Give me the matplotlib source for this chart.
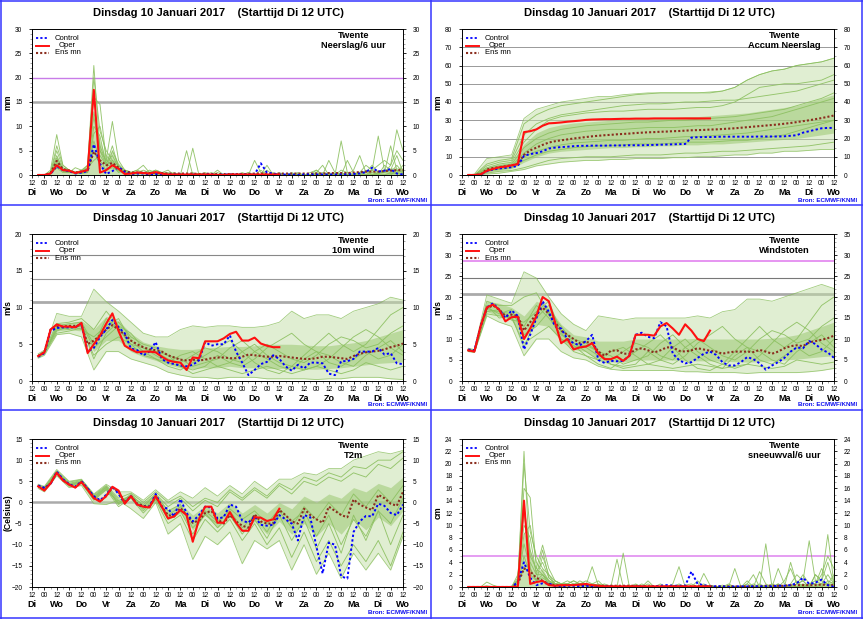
import numpy as np
import matplotlib
matplotlib.use('Agg')
import matplotlib.pyplot as plt
from matplotlib.lines import Line2D
from matplotlib.ticker import MultipleLocator, FixedLocator

plt.rcParams['font.family'] = ['Liberation Sans', 'DejaVu Sans']

# ---------------- time axes (hours after Di 12 UTC) ----------------
T6 = np.arange(6, 361, 6)                              # 6-hourly, 60 steps
T12 = np.concatenate([[6], np.arange(12, 361, 12)])    # 12-hourly, 31 steps
HOURS = ['12', '00'] * 15 + ['12']
DAYS = ['Di', 'Wo', 'Do', 'Vr', 'Za', 'Zo', 'Ma', 'Di', 'Wo', 'Do', 'Vr', 'Za', 'Zo', 'Ma', 'Di', 'Wo']
TITLE = 'Dinsdag 10 Januari 2017    (Starttijd Di 12 UTC)'

# ================= Panel 1: Neerslag/6 uur (mm) =================
p1_oper = [
    0, 0, 0.3, 2.0,
    1.0, 0.9, 0.4, 0.7,
    1.0, 17.5, 0.5, 1.0,
    2.0, 1.3, 0.2, 0.3,
    0.5, 0.4, 0.3, 0.6,
    0.3, 0.1, 0.1, 0.1,
    0.1, 0.1, 0.1, 0.1,
    0.1, 0.0, 0.0, 0.1,
    0.1, 0.1, 0.1, 0.1,
    0.1, 0.1, 0.1, 0.1]
p1_ctrl = [
    0, 0, 0.2, 1.8,
    1.0, 0.8, 0.3, 0.5,
    0.8, 6.3, 2.3, 0.2,
    0.8, 1.6, 0.6, 0.2,
    0.3, 0.3, 0.1, 0.2,
    0.1, 0.1, 0.1, 0.1,
    0.0, 0.1, 0.0, 0.1,
    0.1, 0.0, 0.1, 0.1,
    0.1, 0.1, 0.1, 0.1,
    2.4, 0.5, 0.3, 0.1,
    0.1, 0.1, 0.0, 0.1,
    0.1, 0.1, 0.1, 0.1,
    0.1, 0.1, 0.1, 0.2,
    0.3, 0.6, 1.5, 0.7,
    0.9, 1.2, 0.3, 0.1]
p1_mean = [
    0, 0, 0.4, 2.9,
    1.2, 0.9, 0.5, 0.7,
    1.0, 4.8, 3.0, 2.0,
    2.5, 1.5, 0.8, 0.5,
    0.5, 0.5, 0.4, 0.5,
    0.4, 0.3, 0.3, 0.3,
    0.3, 0.3, 0.2, 0.3,
    0.2, 0.2, 0.2, 0.2,
    0.2, 0.2, 0.2, 0.3,
    0.3, 0.3, 0.2, 0.3,
    0.3, 0.3, 0.3, 0.3,
    0.3, 0.3, 0.3, 0.4,
    0.4, 0.4, 0.4, 0.5,
    0.6, 0.7, 0.7, 0.7,
    0.8, 0.9, 1.0, 1.0]
p1_core = [
    0, 0, 0.6, 4.0,
    1.5, 1.2, 0.8, 1.0,
    1.5, 12.0, 7.0, 3.5,
    5.0, 2.5, 1.2, 0.8,
    0.8, 0.8, 0.6, 0.8,
    0.5, 0.4, 0.3, 0.3,
    0.3, 0.3, 0.3, 0.3,
    0.2, 0.2, 0.2, 0.2,
    0.2, 0.2, 0.2, 0.3,
    0.3, 0.3, 0.3, 0.3,
    0.3, 0.3, 0.3, 0.3,
    0.3, 0.3, 0.4, 0.4,
    0.4, 0.5, 0.5, 0.6,
    0.8, 1.0, 1.0, 1.0,
    1.2, 1.5, 1.5, 1.5]
p1_m1 = [
    0, 0, 1.0, 8.3,
    2.0, 1.0, 0.5, 1.0,
    2.0, 22.5, 5.0, 2.0,
    3.0, 1.0, 0.5, 0.5,
    1.0, 2.0, 0.5, 1.0,
    0.5, 0.3, 0.0, 0.2,
    0.0, 0.5, 0.0, 0.0,
    0.0, 0.0, 0.0, 0.3,
    0.0, 0.0, 0.5, 0.0,
    0.0, 1.0, 0.0, 0.5,
    0.0, 0.5, 0.0, 0.0,
    0.5, 1.0, 0.0, 0.3,
    0.0, 1.0, 0.5, 0.0,
    0.5, 0.0, 1.0, 2.0,
    3.0, 2.0, 9.3, 5.0]
p1_m2 = [
    0, 0, 0.5, 5.0,
    1.5, 1.0, 0.5, 0.5,
    1.0, 16.0, 14.5, 3.0,
    2.0, 0.5, 1.0, 0.5,
    0.5, 0.3, 1.0, 0.5,
    0.2, 0.0, 0.3, 0.0,
    0.0, 5.5, 0.0, 0.5,
    0.0, 0.0, 0.0, 0.0,
    0.0, 0.5, 0.0, 0.0,
    1.0, 0.0, 0.3, 0.0,
    0.0, 0.0, 0.5, 0.0,
    0.0, 0.0, 0.5, 0.0,
    0.0, 7.0, 0.5, 0.0,
    0.0, 0.5, 1.0, 0.0,
    2.0, 1.0, 4.0, 0.5]
p1_m3 = [
    0, 0, 0.3, 3.0,
    1.0, 0.5, 1.5, 1.0,
    1.5, 12.0, 5.0, 3.0,
    11.0, 3.0, 1.0, 0.5,
    0.5, 1.0, 0.5, 0.3,
    0.5, 0.3, 0.2, 0.0,
    5.0, 0.0, 0.3, 0.0,
    0.0, 0.0, 0.0, 0.0,
    0.0, 0.0, 0.5, 0.0,
    0.0, 2.0, 0.0, 0.3,
    0.0, 0.0, 0.0, 0.0,
    0.0, 0.5, 0.0, 3.0,
    0.5, 0.0, 0.0, 0.0,
    0.5, 2.0, 1.0, 8.0,
    1.0, 0.5, 2.0, 0.5]
p1_m4 = [
    0, 0, 0.5, 4.0,
    1.0, 1.0, 0.5, 0.8,
    1.0, 10.0, 8.0, 2.0,
    2.0, 1.0, 0.5, 0.3,
    0.3, 0.5, 0.2, 0.3,
    0.0, 0.2, 0.5, 0.0,
    0.0, 0.0, 0.0, 0.3,
    0.0, 1.0, 0.0, 0.0,
    0.0, 0.0, 0.0, 3.0,
    0.5, 0.0, 0.0, 0.0,
    0.0, 0.3, 0.0, 0.0,
    0.0, 0.5, 2.0, 0.0,
    0.0, 0.0, 3.0, 0.5,
    0.0, 1.0, 0.0, 0.5,
    0.5, 2.0, 5.0, 3.0]
p1_m5 = [
    0, 0, 0.2, 1.5,
    0.5, 0.5, 0.5, 0.5,
    0.5, 7.0, 3.0, 1.0,
    5.0, 2.0, 0.5, 0.3,
    0.3, 0.3, 0.3, 0.3,
    0.0, 0.0, 0.0, 0.3,
    0.0, 0.0, 0.0, 0.0,
    0.0, 0.0, 0.0, 0.0,
    0.0, 0.3, 0.0, 0.0,
    0.0, 0.0, 0.0, 0.3,
    0.0, 0.0, 0.0, 0.0,
    0.0, 0.0, 0.0, 0.0,
    0.0, 0.0, 0.0, 0.0,
    0.0, 0.0, 0.0, 0.3,
    0.5, 0.3, 0.5, 0.3]
p1_m6 = [
    0, 0, 0.4, 2.5,
    1.0, 1.0, 0.5, 0.5,
    1.5, 3.0, 4.0, 2.0,
    6.0, 1.5, 0.5, 0.5,
    0.5, 0.3, 0.5, 1.0,
    0.5, 1.0, 0.0, 0.0,
    0.0, 0.0, 0.3, 0.0,
    0.0, 0.5, 0.0, 0.0,
    0.0, 0.0, 0.0, 0.0,
    0.0, 0.0, 0.0, 0.0,
    0.0, 0.0, 0.3, 0.0,
    0.0, 0.0, 0.0, 0.0,
    0.3, 0.0, 0.0, 1.0,
    4.0, 0.5, 2.0, 0.5,
    0.5, 6.0, 1.0, 0.5]
p1_m7 = [
    0, 0, 0.3, 2.0,
    0.8, 0.5, 0.5, 0.3,
    0.5, 5.0, 2.0, 1.0,
    1.5, 0.8, 0.3, 0.2,
    0.2, 0.3, 0.2, 0.2,
    0.0, 0.0, 0.0, 0.0,
    0.0, 0.0, 0.0, 0.0,
    0.0, 0.0, 0.0, 0.0,
    0.0, 0.0, 0.0, 0.0,
    0.0, 0.0, 0.0, 0.0,
    0.0, 0.0, 0.0, 0.0,
    0.0, 0.0, 0.0, 0.0,
    0.0, 0.0, 0.0, 0.0,
    0.0, 0.0, 0.0, 0.0,
    0.0, 0.5, 0.3, 0.2]
p1_m8 = [
    0, 0, 0.5, 6.0,
    2.0, 1.0, 0.5, 0.8,
    2.0, 20.0, 9.0, 5.0,
    3.0, 2.0, 1.0, 0.5,
    1.0, 0.5, 0.5, 0.5,
    0.3, 0.3, 0.2, 0.2,
    0.0, 0.0, 0.0, 0.0,
    0.0, 0.0, 0.0, 0.0,
    0.0, 0.0, 0.0, 0.0,
    0.0, 0.0, 0.0, 0.0,
    0.0, 0.0, 0.0, 0.0,
    0.0, 1.0, 0.0, 0.5,
    0.0, 0.0, 0.0, 0.0,
    0.0, 0.0, 0.0, 0.5,
    1.0, 1.0, 0.5, 2.0]
p1_m9 = [
    0, 0, 0.6, 3.5,
    1.2, 0.8, 0.6, 0.6,
    1.2, 13.0, 6.0, 2.5,
    4.0, 1.5, 0.6, 0.4,
    0.4, 0.4, 0.6, 0.4,
    0.2, 0.5, 0.1, 0.1,
    0.0, 0.0, 0.2, 0.0,
    0.5, 0.0, 0.0, 0.0,
    0.0, 0.0, 0.0, 0.0,
    0.0, 0.0, 0.5, 0.0,
    0.0, 0.0, 0.0, 0.0,
    0.0, 0.0, 0.0, 0.0,
    0.0, 0.5, 0.0, 0.0,
    0.0, 0.0, 0.5, 0.0,
    0.0, 0.0, 1.0, 0.5]
p1_m10 = [
    0, 0, 0.2, 2.2,
    0.8, 0.7, 0.3, 0.4,
    0.8, 8.5, 10.0, 4.0,
    2.5, 1.0, 0.4, 0.3,
    0.3, 0.3, 0.2, 0.4,
    0.3, 0.0, 0.0, 0.0,
    0.0, 0.0, 0.0, 0.0,
    0.0, 0.0, 0.0, 0.0,
    0.0, 0.0, 0.0, 0.0,
    0.0, 0.0, 0.0, 0.0,
    0.0, 0.0, 0.0, 0.0,
    0.0, 0.0, 0.0, 0.0,
    0.0, 0.0, 0.0, 0.0,
    0.0, 0.0, 0.0, 0.0,
    0.0, 0.0, 0.0, 0.0]

# ================= Panel 2: Accum Neerslag (mm) =================
p2_oper = [
    0, 0, 0.3, 2.3,
    3.3, 4.2, 4.6, 5.3,
    6.0, 23.5, 24.0, 25.0,
    27.0, 28.3, 28.5, 28.8,
    29.2, 29.5, 29.8, 30.2,
    30.4, 30.5, 30.6, 30.6,
    30.7, 30.8, 30.8, 30.9,
    30.9, 30.9, 31.0, 31.0,
    31.0, 31.0, 31.0, 31.0,
    31.0, 31.0, 31.0, 31.0]
p2_ctrl = [
    0, 0, 0.2, 2.0,
    3.0, 3.6, 3.9, 4.3,
    5.0, 10.5, 11.5, 12.0,
    13.0, 14.5, 15.0, 15.3,
    15.5, 15.8, 16.0, 16.0,
    16.1, 16.1, 16.1, 16.2,
    16.2, 16.2, 16.3, 16.3,
    16.3, 16.4, 16.5, 16.6,
    16.7, 16.8, 16.9, 17.0,
    20.5, 20.7, 20.8, 20.8,
    20.9, 21.0, 21.0, 21.0,
    21.0, 21.0, 21.0, 21.1,
    21.1, 21.1, 21.1, 21.2,
    21.5, 21.8, 23.2, 24.0,
    24.8, 25.6, 25.8, 25.8]
p2_mean = [
    0, 0, 0.3, 3.0,
    3.8, 4.3, 4.8, 5.3,
    6.0, 11.0, 13.5, 15.0,
    16.5, 17.8, 18.5, 19.0,
    19.5, 20.0, 20.4, 20.8,
    21.2, 21.5, 21.8, 22.0,
    22.3, 22.5, 22.7, 23.0,
    23.2, 23.4, 23.5, 23.7,
    23.8, 24.0, 24.1, 24.3,
    24.5, 24.6, 24.7, 24.9,
    25.0, 25.2, 25.4, 25.6,
    25.9, 26.2, 26.5, 26.8,
    27.1, 27.4, 27.7, 28.1,
    28.5, 29.0, 29.5, 30.0,
    30.6, 31.2, 31.9, 32.6]
p2_lo = [0, 0, 0.5, 1, 2, 3, 5, 6, 7, 7.5, 8, 8, 8.5, 8.5, 9, 9, 9, 9.5, 9.5, 10, 10, 10.5, 11, 11, 12, 12, 13, 13, 13.5, 14, 14]
p2_hi = [0, 0.5, 9, 10, 11, 31, 36, 38, 40, 41, 42, 43, 43, 44, 44.5, 45, 45, 45, 45, 45, 45.5, 46, 48, 52, 55, 57, 58, 60, 61, 62, 64]
p2_core_lo = [0, 0, 1.5, 2.5, 3.5, 7, 10, 12, 13, 13.5, 14, 14.5, 15, 15, 15.5, 15.5, 16, 16, 16.5, 16.5, 17, 17, 17.5, 18, 18.5, 19, 19.5, 20, 21, 22, 23]
p2_core_hi = [0, 0, 4.5, 6, 7, 17, 23, 26, 27.5, 28.5, 29, 29.5, 30, 30.5, 31, 31, 31.5, 31.5, 32, 32, 32.5, 33, 33.5, 34, 35, 36, 37, 38, 40, 42, 44]
p2_m1 = [0, 0, 6, 8, 9, 28, 33, 36, 38, 39, 40, 41, 42, 43, 44, 44.5, 45, 45, 45, 45, 45, 46, 48, 52, 55, 57, 58, 60, 61, 62, 64]
p2_m2 = [0, 0, 4, 6, 7, 18, 25, 30, 32, 33, 34, 34.5, 35, 35, 35.5, 36, 36, 36, 36.5, 37, 37, 38, 40, 44, 48, 49, 50, 50, 51, 52, 55]
p2_m3 = [0, 0, 3, 4, 5, 12, 17, 20, 22, 23, 24, 24.5, 25, 25, 25.5, 26, 26, 26, 26.5, 27, 27, 28, 29, 30, 31, 32, 34, 36, 38, 40, 42]
p2_m4 = [0, 0, 2, 3, 4, 8, 11, 13, 14, 15, 15.5, 16, 16, 16.5, 17, 17, 17, 17.5, 18, 18, 18, 18.5, 19, 19, 20, 21, 22, 24, 26, 28, 30]
p2_m5 = [0, 0, 1, 2, 2.5, 4, 6, 8, 9, 9.5, 10, 10, 10, 10.5, 11, 11, 11, 11.5, 12, 12, 12.5, 13, 13, 13.5, 14, 14.5, 15, 15.5, 16, 17, 18]
p2_m6 = [0, 0, 5, 7, 8, 22, 28, 31, 33, 34, 35, 36, 37, 38, 38.5, 39, 39, 39.5, 40, 40, 40.5, 41, 41, 42, 43, 44, 45, 46, 48, 50, 52]
p2_m7 = [0, 0, 3.5, 5, 6, 15, 20, 23, 25, 26, 27, 27.5, 28, 28.5, 29, 29, 29.5, 30, 30, 30.5, 31, 31.5, 32, 33, 34, 35, 36, 38, 40, 42, 45]
p2_m8 = [0, 0, 2.5, 3.5, 4.5, 10, 13, 15, 16.5, 17.5, 18, 18.5, 19, 19, 19.5, 20, 20, 20.5, 21, 21, 21.5, 22, 22.5, 23, 24, 25, 26, 27, 28, 29, 30]

# ================= Panel 3: 10m wind (m/s) =================
p3_oper = [
    3.4, 3.9, 7.0, 7.7,
    7.4, 7.4, 7.3, 7.9,
    3.8, 5.0, 6.2, 7.8,
    9.2, 6.8, 4.8, 4.3,
    3.9, 4.0, 4.0, 3.9,
    3.3, 2.8, 2.6, 2.5,
    1.5, 3.2, 3.1, 5.4,
    5.4, 5.4, 5.8, 6.4,
    6.7, 5.5, 5.5, 5.9,
    5.1, 4.8, 4.6, 4.6]
p3_ctrl = [
    3.3, 3.8, 6.8, 7.2,
    7.3, 7.3, 7.3, 7.8,
    4.0, 4.5, 6.0, 7.0,
    8.3, 7.3, 6.5, 4.4,
    4.2, 3.5, 4.0, 5.3,
    3.0, 2.5, 2.3, 2.1,
    2.0, 2.2, 2.8, 5.3,
    4.8, 5.0, 5.0, 6.2,
    4.0, 2.5, 0.8, 1.5,
    2.3, 2.6, 3.5, 3.0,
    2.0, 1.4, 2.2, 1.7,
    2.5, 2.5, 2.4, 1.0,
    0.8, 2.7, 2.7, 3.0,
    4.0, 4.0, 4.0, 4.5,
    3.6, 3.8, 2.4, 2.3]
p3_mean = [
    3.4, 3.9, 7.0, 7.4,
    7.4, 7.5, 7.5, 7.6,
    5.0, 5.5, 6.2, 7.0,
    7.6, 7.0, 6.3, 5.5,
    5.0, 4.6, 4.3, 4.2,
    4.0, 3.5, 3.2, 2.9,
    2.8, 2.9, 2.8, 2.9,
    3.1, 3.2, 3.2, 3.1,
    3.1, 3.3, 3.6, 3.5,
    3.4, 3.3, 3.3, 3.4,
    3.3, 3.2, 3.1, 3.0,
    3.0, 3.1, 3.3, 3.3,
    3.2, 3.1, 3.0, 3.4,
    3.7, 3.9, 4.0, 4.1,
    4.3, 4.6, 4.8, 5.1]
p3_lo = [3.1, 3.5, 6.3, 6.5, 6.0, 1.5, 4.0, 4.0, 3.0, 2.5, 2.0, 1.2, 0.8, 0.5, 0.5, 0.3, 0.5, 0.5, 0.5, 0.3, 0.3, 0.3, 0.3, 0.2, 0.3, 0.3, 0.5, 0.5, 0.5, 0.3, 0.2]
p3_hi = [3.7, 4.2, 9.2, 8.8, 8.8, 12.5, 10.8, 9.5, 8.0, 6.5, 6.0, 6.0, 7.0, 7.5, 7.3, 7.5, 7.5, 7.3, 7.3, 7.5, 8.0, 9.5, 8.5, 9.0, 9.0, 8.5, 9.5, 10.0, 10.5, 11.4, 11.0]
p3_core_lo = [3.3, 3.7, 6.8, 7.0, 6.8, 4.0, 5.5, 5.5, 4.0, 3.3, 2.8, 2.2, 1.8, 1.7, 1.8, 1.8, 2.0, 1.8, 1.8, 1.7, 1.7, 1.7, 1.6, 1.6, 1.7, 1.8, 2.0, 2.2, 2.4, 2.5, 2.6]
p3_core_hi = [3.6, 4.1, 7.8, 7.9, 8.2, 7.0, 8.8, 8.2, 6.5, 5.3, 4.8, 4.5, 4.3, 4.3, 4.5, 4.6, 4.7, 4.7, 4.8, 5.0, 5.0, 5.0, 4.9, 4.8, 4.8, 5.0, 5.2, 5.5, 6.0, 6.5, 7.0]
p3_m1 = [3.3, 3.8, 7.5, 7.8, 8.0, 5.0, 8.5, 7.0, 5.0, 4.5, 4.0, 3.0, 2.5, 3.5, 4.5, 4.0, 3.0, 2.5, 4.0, 5.0, 4.0, 3.0, 2.5, 3.5, 5.0, 6.0, 5.5, 4.5, 5.0, 6.5, 7.5]
p3_m2 = [3.5, 4.0, 7.0, 7.2, 7.5, 3.0, 6.5, 8.0, 6.0, 5.0, 4.5, 3.5, 3.0, 2.0, 2.5, 3.0, 4.5, 5.5, 4.0, 3.0, 2.0, 1.5, 3.0, 4.0, 3.5, 2.5, 2.0, 3.5, 4.5, 5.5, 4.0]
p3_m3 = [3.4, 3.9, 6.8, 7.5, 7.0, 6.0, 7.5, 8.5, 5.5, 4.0, 4.0, 3.5, 2.0, 1.5, 2.0, 3.5, 2.5, 2.0, 3.0, 4.5, 5.5, 6.5, 5.0, 4.0, 2.5, 2.0, 3.0, 4.0, 3.0, 3.5, 5.0]
p3_m4 = [3.2, 3.7, 7.3, 7.0, 7.8, 4.5, 6.0, 7.5, 6.5, 4.5, 3.5, 2.5, 3.5, 4.0, 3.0, 2.0, 2.5, 4.0, 5.0, 3.5, 2.5, 2.0, 1.5, 2.0, 3.0, 4.5, 6.0, 7.0, 6.0, 4.5, 3.5]
p3_m5 = [3.5, 4.1, 7.8, 8.0, 8.5, 7.0, 9.5, 7.5, 4.5, 4.0, 3.0, 2.0, 1.5, 2.5, 3.5, 4.5, 5.5, 4.0, 2.5, 1.5, 1.0, 2.0, 3.5, 5.0, 6.5, 5.0, 4.0, 5.0, 7.0, 9.0, 10.0]
p3_m6 = [3.3, 3.8, 6.5, 6.8, 7.2, 3.5, 5.0, 6.0, 5.0, 3.5, 3.0, 2.5, 2.0, 1.0, 1.5, 2.0, 1.5, 1.0, 1.5, 2.0, 1.5, 1.0, 1.5, 2.0, 1.5, 1.0, 1.5, 2.5, 2.0, 1.5, 2.0]

# ================= Panel 4: Windstoten (m/s) =================
p4_oper = [
    7.3, 7.0, 13.0, 17.5,
    18.2, 17.0, 14.2, 15.2,
    15.3, 10.0, 12.5, 15.5,
    20.0, 19.0, 14.0, 9.0,
    10.0, 7.5, 8.0, 8.2,
    9.0, 6.5, 5.2, 5.2,
    5.8, 4.8, 6.0, 11.0,
    11.0, 11.0, 10.8, 13.0,
    13.8, 12.5, 11.0, 13.5,
    12.0, 10.0, 9.5, 12.0]
p4_ctrl = [
    7.5, 7.3, 13.0, 17.5,
    18.5, 17.0, 15.0, 16.8,
    15.5, 7.5, 11.0, 15.0,
    19.0, 16.5, 13.0, 12.5,
    10.0, 9.0, 8.5, 9.5,
    11.0, 5.0, 4.3, 4.8,
    4.7, 4.8, 6.0, 11.0,
    11.5, 10.5, 10.2, 14.0,
    13.0, 6.5, 5.0, 4.2,
    4.5, 5.5, 6.5, 7.0,
    6.2, 4.5, 3.7, 3.7,
    4.5, 5.7, 5.2, 4.2,
    2.7, 3.7, 4.5, 5.5,
    7.0, 8.0, 7.8, 9.5,
    8.8, 7.5, 6.8, 5.5]
p4_mean = [
    7.3, 7.1, 13.0, 17.3,
    18.0, 17.0, 15.5, 15.8,
    15.5, 12.0, 14.0, 16.0,
    17.5, 16.0, 14.0, 12.0,
    11.0, 10.0, 9.0, 9.3,
    9.0, 7.0, 6.0, 7.2,
    7.3, 6.5, 6.5, 7.5,
    7.8, 7.3, 6.8, 7.3,
    8.0, 8.0, 7.2, 7.0,
    7.3, 7.8, 7.5, 7.2,
    7.0, 6.5, 6.8, 7.0,
    7.0, 7.0, 6.9, 7.4,
    7.0, 6.5, 7.0, 7.8,
    8.3, 8.5, 8.3, 9.2,
    9.5, 9.8, 10.2, 10.8]
p4_lo = [7.0, 6.8, 15.5, 14.0, 13.0, 6.0, 10.0, 10.0, 7.0, 5.5, 5.0, 3.5, 2.8, 2.5, 2.5, 2.5, 2.5, 2.5, 2.2, 2.2, 2.0, 2.0, 2.0, 1.8, 2.0, 2.0, 2.0, 2.0, 2.2, 2.5, 3.0]
p4_hi = [7.8, 7.5, 20.5, 19.5, 18.5, 26.0, 24.5, 20.0, 16.0, 13.5, 12.0, 15.5, 15.0, 14.5, 15.0, 15.0, 15.0, 15.0, 15.0, 15.5, 15.0, 16.5, 17.0, 19.5, 19.5, 19.0, 20.0, 21.0, 22.0, 23.0, 22.0]
p4_core_lo = [7.2, 6.9, 16.5, 15.5, 14.5, 10.0, 13.5, 13.0, 9.5, 7.5, 7.0, 5.0, 4.5, 4.5, 5.0, 5.0, 5.0, 5.0, 4.8, 4.8, 4.8, 4.7, 4.6, 4.5, 4.6, 4.8, 5.0, 5.2, 5.5, 5.8, 6.0]
p4_core_hi = [7.6, 7.3, 19.0, 18.5, 17.5, 15.5, 19.0, 17.5, 13.5, 11.0, 10.5, 9.5, 9.5, 9.5, 10.0, 10.0, 10.0, 10.0, 10.0, 10.2, 10.0, 10.0, 10.0, 10.0, 10.0, 10.2, 10.5, 11.0, 12.0, 13.0, 14.0]
p4_m1 = [7.3, 7.0, 17.0, 16.5, 16.0, 13.0, 18.0, 15.0, 11.0, 9.0, 8.0, 6.0, 5.0, 7.0, 9.0, 8.0, 6.0, 5.0, 8.0, 10.0, 8.0, 6.0, 5.0, 7.0, 10.0, 12.0, 11.0, 9.0, 10.0, 13.0, 15.0]
p4_m2 = [7.5, 7.2, 18.0, 15.0, 15.5, 8.0, 15.0, 18.0, 12.0, 10.0, 9.0, 7.0, 6.0, 4.0, 5.0, 6.0, 9.0, 11.0, 8.0, 6.0, 4.0, 3.0, 6.0, 8.0, 7.0, 5.0, 4.0, 7.0, 9.0, 11.0, 8.0]
p4_m3 = [7.2, 7.0, 16.5, 17.0, 14.5, 14.0, 16.5, 19.0, 11.5, 8.0, 8.5, 7.0, 4.0, 3.5, 4.0, 7.0, 5.0, 4.0, 6.0, 9.0, 11.0, 13.0, 10.0, 8.0, 5.0, 4.0, 6.0, 8.0, 6.0, 7.0, 10.0]
p4_m4 = [7.4, 7.1, 17.5, 16.0, 17.0, 11.0, 13.0, 16.5, 13.0, 9.0, 7.0, 5.0, 7.0, 8.0, 6.0, 4.0, 5.0, 8.0, 10.0, 7.0, 5.0, 4.0, 3.0, 4.0, 6.0, 9.0, 12.0, 14.0, 12.0, 9.0, 7.0]
p4_m5 = [7.6, 7.4, 19.0, 18.0, 18.0, 20.0, 21.0, 16.0, 10.0, 8.5, 6.0, 4.0, 3.0, 5.0, 7.0, 9.0, 11.0, 8.0, 5.0, 3.0, 2.5, 4.0, 7.0, 10.0, 13.0, 10.0, 8.0, 10.0, 14.0, 18.0, 20.0]
p4_m6 = [7.1, 6.9, 16.0, 15.5, 15.0, 9.0, 11.0, 13.0, 10.0, 7.0, 6.0, 5.0, 4.0, 3.0, 3.5, 4.0, 3.5, 3.0, 3.5, 4.0, 3.5, 3.0, 3.5, 4.0, 3.5, 3.0, 3.5, 5.0, 4.5, 4.0, 4.5]

# ================= Panel 5: T2m (Celsius) =================
p5_oper = [
    3.8, 2.8, 4.5, 7.0,
    5.2, 4.2, 3.5, 4.8,
    3.0, 1.0, 0.2, 1.5,
    3.7, 2.8, -0.3, 1.5,
    -0.5, -1.0, -1.2, 1.5,
    -1.0, -3.8, -3.3, -1.8,
    -3.0, -9.3, -4.0, -1.0,
    -1.0, -4.8, -4.8, -2.3,
    -4.8, -6.7, -6.7, -3.5,
    -3.6, -4.4, -4.0, -1.5]
p5_ctrl = [
    4.0, 3.5, 4.3, 7.3,
    5.5, 4.3, 3.7, 5.0,
    3.3, 1.5, 0.5, 1.8,
    3.8, 2.0, -0.2, 1.5,
    -0.5, -1.0, -1.0, 2.0,
    -1.0, -1.5, -3.3, 0.8,
    -2.5, -4.5, -3.0, -1.0,
    -1.2, -3.8, -3.5, -0.5,
    -1.0, -4.3, -4.8, -3.3,
    -5.3, -5.5, -5.3, -3.0,
    -4.0, -5.0, -9.0, -3.0,
    -3.5, -10.5, -16.8, -9.5,
    -10.0, -17.5, -18.0, -7.0,
    -4.5, -3.2, -3.3, -0.3,
    -0.8, -2.5, -3.0, -0.5]
p5_mean = [
    3.8, 3.3, 4.5, 7.0,
    5.3, 4.3, 3.6, 4.9,
    3.2, 1.2, 0.3, 1.5,
    3.5, 2.5, 0.0, 1.5,
    -0.3, -0.8, -1.0, 1.5,
    -1.0, -3.0, -3.3, -1.3,
    -3.0, -4.8, -4.3, -2.5,
    -2.0, -4.0, -5.0, -3.0,
    -4.5, -5.5, -6.0, -2.8,
    -4.5, -5.0, -5.0, -1.8,
    -3.0, -4.5, -5.0, -1.5,
    -3.0, -4.0, -4.8, -1.0,
    -2.0, -3.0, -3.5, 0.7,
    -0.5, -1.2, -1.8, 1.8,
    1.0, -0.3, -0.8, 2.5]
p5_lo = [3.3, 2.5, 6.3, 3.5, 4.0, -0.3, -0.5, 0.5, -1.5, -3.8, 0.0, -7.5, -5.0, -13.5, -8.0, -10.0, -7.0, -14.5, -9.0, -11.0, -9.0, -16.0, -10.0, -17.0, -12.0, -18.0, -12.0, -16.0, -12.0, -16.0, -8.0]
p5_hi = [4.3, 3.8, 7.8, 5.0, 5.5, 2.0, 4.3, 2.5, 2.5, 0.5, 3.0, 0.5, 2.5, 1.0, 3.5, 1.5, 4.0, 2.0, 5.0, 3.0, 5.5, 5.5, 7.0, 6.5, 8.0, 8.0, 10.0, 11.0, 12.0, 11.5, 12.3]
p5_core_lo = [3.6, 3.0, 6.7, 3.9, 4.5, 0.7, 3.0, -0.5, 1.0, -1.8, 0.8, -4.0, -2.5, -6.5, -3.0, -6.0, -3.5, -7.0, -4.5, -7.5, -4.5, -7.5, -5.0, -8.0, -5.0, -7.5, -4.0, -6.5, -3.5, -5.5, -2.0]
p5_core_hi = [4.1, 3.6, 7.3, 4.6, 5.2, 1.7, 3.8, 0.5, 1.8, -0.5, 2.0, -1.8, -0.3, -3.0, -0.8, -2.5, 0.0, -2.5, -0.5, -2.5, 0.0, -1.5, 1.5, 0.0, 2.0, 1.0, 3.5, 2.5, 4.5, 3.5, 6.0]
p5_m1 = [3.9, 3.0, 7.2, 4.3, 5.0, 1.5, 3.8, 0.5, 1.5, -0.5, 2.0, -1.0, 1.0, -2.0, 0.5, -1.0, 2.5, 0.5, 3.0, 1.0, 4.0, 2.0, 5.0, 4.0, 6.0, 5.0, 7.0, 6.0, 9.0, 8.0, 10.5]
p5_m2 = [3.7, 3.0, 6.8, 3.8, 4.5, 0.5, 3.0, -1.0, 1.0, -2.5, 0.5, -5.0, -3.0, -9.0, -4.0, -7.0, -4.0, -9.0, -5.0, -10.0, -6.0, -13.0, -7.0, -14.0, -9.0, -15.0, -10.0, -14.0, -9.0, -15.0, -7.0]
p5_m3 = [3.8, 3.3, 7.0, 4.2, 4.8, 1.0, 3.5, 0.0, 1.5, -1.5, 1.0, -3.0, -1.0, -5.0, -2.0, -4.5, -2.0, -6.0, -3.0, -7.0, -2.0, -6.0, -1.0, -4.0, 0.0, -3.0, 2.0, -1.0, 3.0, 0.0, 4.0]
p5_m4 = [4.0, 3.5, 7.3, 4.5, 5.2, 1.3, 3.6, -0.5, 2.0, -1.0, 1.8, -2.0, -0.5, -6.0, -3.0, -5.0, -1.5, -4.0, -2.0, -5.0, -1.5, -4.5, -2.0, -8.0, -3.0, -10.0, -4.0, -8.0, -2.0, -5.0, 1.0]
p5_m5 = [3.8, 3.2, 6.9, 4.0, 4.6, 0.8, 3.2, -0.3, 1.2, -2.0, 0.8, -4.0, -2.0, -7.5, -2.5, -6.0, -3.0, -7.5, -4.0, -8.5, -3.0, -9.0, -4.0, -11.0, -5.0, -12.0, -3.0, -9.0, -2.0, -10.0, -3.0]
p5_m6 = [4.1, 3.6, 7.5, 4.8, 5.4, 1.8, 4.0, 1.0, 2.2, 0.0, 2.5, 0.0, 1.5, -1.0, 1.0, 0.0, 3.0, 1.0, 3.5, 1.5, 4.5, 3.0, 6.0, 5.0, 7.0, 6.0, 8.5, 8.0, 10.0, 10.0, 12.0]

# ================= Panel 6: sneeuwval/6 uur (cm) =================
p6_oper = [
    0, 0, 0, 0,
    0, 0, 0, 0,
    0.0, 14.0, 0.5, 0.8,
    1.0, 0.3, 0.2, 0.3,
    0.3, 0.3, 0.4, 0.5,
    0.3, 0.2, 0.1, 0.1,
    0.1, 0.1, 0.1, 0.1,
    0.1, 0.1, 0.1, 0.1,
    0.1, 0.1, 0.1, 0.1,
    0.1, 0.1, 0.1, 0.1]
p6_ctrl = [
    0, 0, 0, 0,
    0, 0, 0, 0,
    0.8, 4.0, 1.5, 0.3,
    0.6, 0.6, 0.1, 0.1,
    0.2, 0.2, 0.1, 0.2,
    0.1, 0.1, 0.1, 0.1,
    0.0, 0.1, 0.0, 0.1,
    0.1, 0.0, 0.1, 0.2,
    0.3, 0.2, 0.2, 0.2,
    2.5, 0.5, 0.3, 0.1,
    0.1, 0.1, 0.0, 0.1,
    0.1, 0.1, 0.1, 0.1,
    0.1, 0.1, 0.2, 0.2,
    0.3, 0.6, 1.5, 0.5,
    0.7, 1.2, 0.3, 0.0]
p6_mean = [
    0, 0, 0, 0,
    0, 0, 0, 0,
    0.5, 3.0, 2.5, 1.5,
    1.0, 0.5, 0.3, 0.2,
    0.3, 0.3, 0.3, 0.3,
    0.2, 0.2, 0.2, 0.2,
    0.2, 0.2, 0.2, 0.2,
    0.1, 0.1, 0.1, 0.1,
    0.1, 0.1, 0.1, 0.1,
    0.1, 0.1, 0.1, 0.1,
    0.1, 0.1, 0.1, 0.1,
    0.1, 0.1, 0.1, 0.1,
    0.2, 0.2, 0.2, 0.2,
    0.3, 0.3, 0.3, 0.3,
    0.3, 0.4, 0.3, 0.3]
p6_core = [
    0, 0, 0, 0,
    0, 0, 0, 0,
    1.0, 9.0, 6.0, 2.5,
    3.0, 1.2, 0.6, 0.4,
    0.5, 0.5, 0.5, 0.5,
    0.4, 0.3, 0.3, 0.3,
    0.3, 0.3, 0.3, 0.3,
    0.2, 0.2, 0.2, 0.2,
    0.2, 0.2, 0.2, 0.2,
    0.2, 0.2, 0.2, 0.2,
    0.2, 0.2, 0.2, 0.2,
    0.2, 0.2, 0.3, 0.3,
    0.3, 0.3, 0.3, 0.3,
    0.5, 0.6, 0.6, 0.6,
    0.6, 0.8, 0.8, 0.6]
p6_m1 = [
    0, 0, 0, 0.8,
    0.3, 0, 0, 0,
    0.5, 22.0, 3.0, 1.0,
    2.0, 1.0, 0.5, 0.3,
    0.5, 1.0, 0.5, 0.5,
    0.3, 0.2, 0, 0,
    0, 0, 0, 0,
    0, 0, 0, 0.5,
    0, 0, 0, 0,
    0, 1.0, 0, 0,
    0, 0, 0, 3.0,
    0, 0, 0, 0,
    7.0, 0, 0.5, 0,
    0, 0.5, 1.0, 0,
    2.0, 1.0, 8.5, 0.5]
p6_m2 = [
    0, 0, 0, 0.2,
    0, 0, 0, 0,
    1.0, 16.0, 14.5, 3.0,
    2.0, 0.5, 1.0, 0.5,
    0.5, 0.3, 1.0, 0.5,
    0.2, 0, 0.3, 0,
    0, 5.5, 0, 0.5,
    0, 0, 0, 0,
    0, 0.5, 3.3, 0,
    0, 0, 0.3, 0,
    0, 0, 0.5, 0,
    0, 0, 0.5, 0,
    0, 0, 0.5, 0,
    4.0, 0.5, 1.0, 0,
    2.0, 1.0, 4.0, 0.5]
p6_m3 = [
    0, 0, 0, 0,
    0, 0, 0, 0,
    2.0, 12.0, 5.0, 3.0,
    6.8, 3.0, 1.0, 0.5,
    0.5, 1.0, 0.5, 0.3,
    0.5, 0.3, 0.2, 0,
    4.5, 0, 0.3, 0,
    0, 0, 0, 0,
    0, 0, 0.5, 0,
    0, 0, 2.2, 0.3,
    0, 0, 0, 0,
    0, 0.5, 0, 2.5,
    0.5, 0, 0, 0,
    0.5, 2.0, 1.0, 7.5,
    1.0, 0.5, 2.0, 0.5]
p6_m4 = [
    0, 0, 0, 0,
    0, 0, 0, 0,
    1.5, 10.0, 8.0, 2.0,
    2.0, 1.0, 0.5, 0.3,
    0.3, 0.5, 0.2, 0.3,
    3.3, 0.2, 0.5, 0,
    0, 0, 0, 0.3,
    0, 1.0, 0, 0,
    0, 0, 0, 0.3,
    0.5, 0, 0, 0,
    0, 0.3, 0, 0,
    0, 0.5, 2.0, 0,
    0, 0, 3.0, 0.5,
    0, 1.0, 0, 0.5,
    0.5, 2.0, 5.0, 3.0]
p6_m5 = [
    0, 0, 0, 0,
    0, 0, 0, 0,
    1.0, 7.0, 3.0, 1.0,
    5.0, 2.0, 0.5, 0.3,
    0.3, 0.3, 0.3, 0.3,
    0, 0, 0, 0.3,
    0, 0, 0, 0,
    0, 0, 0, 0,
    0, 0.3, 0, 0,
    0, 0, 0, 0.3,
    0, 0, 0, 0,
    0, 0, 0, 0,
    0, 0, 0, 0,
    0, 0, 0, 0.3,
    0.5, 0.3, 0.5, 0.3]
p6_m6 = [
    0, 0, 0, 0,
    0, 0, 0, 0,
    0.5, 3.0, 4.0, 2.0,
    6.0, 1.5, 0.5, 0.5,
    0.5, 0.3, 0.5, 1.0,
    0.5, 1.0, 0, 0,
    0, 0, 0.3, 0,
    0, 0.5, 0, 0,
    0, 0, 0, 0,
    0, 0, 0, 0,
    0, 0, 0.3, 0,
    0, 0, 0, 0,
    0.3, 0, 0, 1.0,
    3.0, 0.5, 2.0, 0.5,
    0.5, 3.0, 1.0, 0.5]
p6_m7 = [
    0, 0, 0, 0,
    0, 0, 0, 0,
    0.3, 5.0, 2.0, 1.0,
    1.5, 0.8, 0.3, 0.2,
    0.2, 0.3, 0.2, 0.2,
    0, 0, 0, 0,
    0, 0, 0, 0,
    0, 0, 0, 0,
    0, 0, 0, 0,
    0, 0, 0, 0,
    0, 0, 0, 0,
    0, 0, 0, 0,
    0, 0, 0, 0,
    0, 0, 0, 0,
    0, 0.5, 0.3, 0.2]
p6_m8 = [
    0, 0, 0, 0,
    0, 0, 0, 0,
    1.0, 20.0, 9.0, 5.0,
    3.0, 2.0, 1.0, 0.5,
    1.0, 0.5, 0.5, 0.5,
    0.3, 0.3, 0.2, 0.2,
    0, 0, 0, 0,
    0, 0, 0, 0,
    0, 0, 0, 0,
    0, 0, 0, 0,
    0, 0, 0, 0,
    0, 1.0, 0, 0.5,
    0, 0, 0, 0,
    0, 0, 0, 0.5,
    1.0, 1.0, 0.5, 2.0]
p6_m9 = [
    0, 0, 0, 0,
    0, 0, 0, 0,
    1.2, 13.0, 6.0, 2.5,
    4.0, 1.5, 0.6, 0.4,
    0.4, 0.4, 0.6, 0.4,
    0.2, 0.5, 0.1, 0.1,
    0, 0, 0.2, 0,
    0.5, 0, 0, 0,
    0, 0, 0, 0,
    0, 0, 0.5, 0,
    0, 0, 0, 0,
    0, 0, 0, 0,
    0, 0.5, 0, 0,
    0, 0, 0.5, 0,
    0, 0, 1.0, 0.5]
p6_m10 = [
    0, 0, 0, 0,
    0, 0, 0, 0,
    0.8, 8.5, 10.0, 4.0,
    2.5, 1.0, 0.4, 0.3,
    0.3, 0.3, 0.2, 0.4,
    0.3, 0, 0, 0,
    0, 0, 0, 0,
    0, 0, 0, 0,
    0, 0, 0, 0,
    0, 0, 0, 0,
    0, 0, 0, 0,
    0, 0, 0, 0,
    0, 0, 0, 0,
    0, 0, 0, 0,
    0, 0, 0, 0]

# ---------------------------------------------------------------
W, H = 863, 619
fig = plt.figure(figsize=(W / 100, H / 100), dpi=100)
fig.patch.set_facecolor('white')

COL_X = [(32, 403), (462, 834)]
ROW_Y = [(29, 175), (234, 381), (439, 587)]
PANEL_X0 = [0, 430]
BRON_Y = [200, 405, 612]

MEMBER_C = '#8cc060'
FILL_C = '#c2dea6'
CORE_C = '#9cc872'
CTRL_C = '#0000ff'
OPER_C = '#ff1010'
MEAN_C = '#8b2d1e'


def make_axes(col, row):
    x0, x1 = COL_X[col]
    y0, y1 = ROW_Y[row]
    return fig.add_axes([x0 / W, 1 - y1 / H, (x1 - x0) / W, (y1 - y0) / H])


def decorate(ax, col, row, ylim, major, minor, ylabel, name, reflines):
    x0, x1 = COL_X[col]
    y0, y1 = ROW_Y[row]
    wpx, hpx = x1 - x0, y1 - y0
    ax.set_xlim(0, 360)
    ax.set_ylim(*ylim)
    ax.xaxis.set_major_locator(FixedLocator(np.arange(0, 361, 12)))
    ax.set_xticklabels(HOURS)
    ax.xaxis.set_minor_locator(MultipleLocator(6))
    ax.yaxis.set_major_locator(MultipleLocator(major))
    ax.yaxis.set_minor_locator(MultipleLocator(minor))
    ax.tick_params(axis='both', which='major', direction='out', length=2.2, width=0.6,
                   labelsize=4.7, colors='black')
    ax.tick_params(axis='y', which='both', left=True, right=True, labelleft=True, labelright=True)
    ax.tick_params(axis='y', which='major', pad=4.8)
    ax.tick_params(axis='x', which='major', pad=1.3)
    ax.tick_params(axis='both', which='minor', direction='out', length=1.5, width=0.5, color='#808080')
    for s in ax.spines.values():
        s.set_linewidth(0.7)
        s.set_color('black')
    for lev, col_, lw in reflines:
        ax.axhline(lev, color=col_, lw=lw, zorder=1)
    for i, d in enumerate(DAYS):
        ax.annotate(d, xy=(i * 24, 0), xycoords=('data', 'axes fraction'), xytext=(0, -12.3),
                    textcoords='offset points', ha='center', va='center', fontsize=6.5,
                    fontweight='bold', annotation_clip=False)
    ax.text(0.5 + 1.0 / wpx, 1 + 16.5 / hpx, TITLE, transform=ax.transAxes, ha='center',
            va='center', fontsize=8.1, fontweight='bold')
    ax.text(-24.0 / wpx, 0.5, ylabel, transform=ax.transAxes, rotation=90, ha='center',
            va='center', fontsize=6.2, fontweight='bold')
    ax.text(0.866, 1 - 6.7 / hpx, 'Twente', transform=ax.transAxes, ha='center', va='center',
            fontsize=6.7, fontweight='bold', zorder=10)
    ax.text(0.866, 1 - 16.7 / hpx, name, transform=ax.transAxes, ha='center', va='center',
            fontsize=6.7, fontweight='bold', zorder=10)
    rows = [9.0, 16.5, 24.0]
    specs = [('Control', CTRL_C, (0, (1.2, 1.2)), 1.3, 23),
             ('Oper', OPER_C, '-', 1.4, 27),
             ('Ens mn', MEAN_C, (0, (1.0, 1.0)), 1.5, 23)]
    for (lab, c, ls, lw, tx), ry in zip(specs, rows):
        yy = 1 - ry / hpx
        ax.add_line(Line2D([4 / wpx, 17 / wpx], [yy, yy], transform=ax.transAxes, color=c,
                           ls=ls, lw=lw, clip_on=False, zorder=10))
        ax.text(tx / wpx, yy, lab, transform=ax.transAxes, ha='left', va='center',
                fontsize=5.5, zorder=10)
    fig.text((PANEL_X0[col] + 427) / W, 1 - BRON_Y[row] / H, 'Bron: ECMWF/KNMI', ha='right',
             va='center', fontsize=4.5, fontweight='bold', color='#1010ee')


def draw(ax, members, tm, ctrl, oper, mean, lo=None, hi=None, core_t=None, core_lo=None, core_hi=None):
    if lo is not None:
        ax.fill_between(T12, lo, hi, color=FILL_C, alpha=0.5, lw=0, zorder=1.5)
        ax.plot(T12, lo, color=MEMBER_C, lw=0.6, alpha=0.8, zorder=2)
        ax.plot(T12, hi, color=MEMBER_C, lw=0.6, alpha=0.8, zorder=2)
    if core_hi is not None:
        ax.fill_between(core_t, core_lo, core_hi, color=CORE_C, alpha=0.55, lw=0, zorder=1.6)
    for m in members:
        ax.plot(tm, m, color=MEMBER_C, lw=0.65, alpha=0.9, zorder=2)
    ax.plot(T6, mean, color=MEAN_C, lw=1.5, ls=(0, (1.0, 1.0)), zorder=3)
    ax.plot(T6, ctrl, color=CTRL_C, lw=1.4, ls=(0, (1.2, 1.2)), zorder=4)
    ax.plot(T6[:len(oper)], oper, color=OPER_C, lw=1.5, zorder=5)


# Panel 1
ax = make_axes(0, 0)
draw(ax, [p1_m1, p1_m2, p1_m3, p1_m4, p1_m5, p1_m6, p1_m7, p1_m8, p1_m9, p1_m10], T6,
     p1_ctrl, p1_oper, p1_mean, core_t=T6, core_lo=0, core_hi=p1_core)
decorate(ax, 0, 0, (0, 30), 5, 1, 'mm', 'Neerslag/6 uur',
         [(20, '#c87ce8', 1.0), (15, '#aaaaaa', 1.8)])

# Panel 2
ax = make_axes(1, 0)
draw(ax, [p2_m1, p2_m2, p2_m3, p2_m4, p2_m5, p2_m6, p2_m7, p2_m8], T12,
     p2_ctrl, p2_oper, p2_mean, p2_lo, p2_hi, T12, p2_core_lo, p2_core_hi)
decorate(ax, 1, 0, (0, 80), 10, 5, 'mm', 'Accum Neerslag',
         [(lv, '#999999', 0.7) for lv in range(10, 80, 10)])

# Panel 3
ax = make_axes(0, 1)
draw(ax, [p3_m1, p3_m2, p3_m3, p3_m4, p3_m5, p3_m6], T12,
     p3_ctrl, p3_oper, p3_mean, p3_lo, p3_hi, T12, p3_core_lo, p3_core_hi)
decorate(ax, 0, 1, (0, 20), 5, 1, 'm/s', '10m wind',
         [(10.8, '#aaaaaa', 2.0), (13.9, '#999999', 0.8), (17.2, '#888888', 0.8)])

# Panel 4
ax = make_axes(1, 1)
draw(ax, [p4_m1, p4_m2, p4_m3, p4_m4, p4_m5, p4_m6], T12,
     p4_ctrl, p4_oper, p4_mean, p4_lo, p4_hi, T12, p4_core_lo, p4_core_hi)
decorate(ax, 1, 1, (0, 35), 5, 1, 'm/s', 'Windstoten',
         [(20.8, '#aaaaaa', 2.0), (24.5, '#777777', 0.8), (28.6, '#e48cf0', 1.3)])

# Panel 5
ax = make_axes(0, 2)
draw(ax, [p5_m1, p5_m2, p5_m3, p5_m4, p5_m5, p5_m6], T12,
     p5_ctrl, p5_oper, p5_mean, p5_lo, p5_hi, T12, p5_core_lo, p5_core_hi)
decorate(ax, 0, 2, (-20, 15), 5, 1, '(Celsius)', 'T2m',
         [(0, '#aaaaaa', 1.8)])

# Panel 6
ax = make_axes(1, 2)
draw(ax, [p6_m1, p6_m2, p6_m3, p6_m4, p6_m5, p6_m6, p6_m7, p6_m8, p6_m9, p6_m10], T6,
     p6_ctrl, p6_oper, p6_mean, core_t=T6, core_lo=0, core_hi=p6_core)
decorate(ax, 1, 2, (0, 24), 2, 1, 'cm', 'sneeuwval/6 uur',
         [(5, '#e08cf0', 1.2)])

# blue panel borders
BC = '#3535ff'
for xp in [0.75, 430.5, 862.25]:
    fig.add_artist(Line2D([xp / W, xp / W], [0, 1], transform=fig.transFigure, color=BC, lw=1.1))
for yp in [0.75, 205, 410, 617.5]:
    fig.add_artist(Line2D([0, 1], [1 - yp / H, 1 - yp / H], transform=fig.transFigure, color=BC, lw=1.1))

fig.savefig('out.png', dpi=100)
